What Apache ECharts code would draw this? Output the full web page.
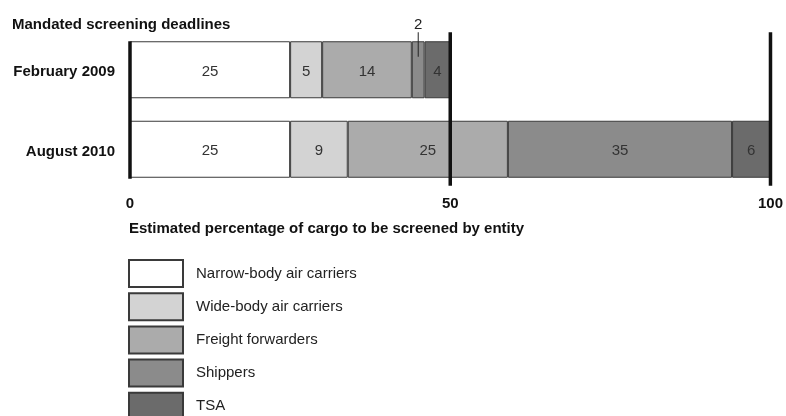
<!DOCTYPE html>
<html>
<head>
<meta charset="utf-8">
<script src="https://cdn.jsdelivr.net/npm/echarts@6/dist/echarts.min.js"></script>
<style>
html,body{margin:0;padding:0;background:#fff;}
#c{width:786px;height:416px;}
</style>
</head>
<body>
<div id="c"></div>
<script>
const categories = ['February 2009', 'August 2010'];
const seriesNames = ['Narrow-body air carriers', 'Wide-body air carriers', 'Freight forwarders', 'Shippers', 'TSA'];
const narrowBody = [25, 25];
const wideBody = [5, 9];
const freightForwarders = [14, 25];
const shippers = [2, 35];
const tsa = [4, 6];
const xTicks = [0, 50, 100];
const chartTitle = 'Mandated screening deadlines';
const axisTitle = 'Estimated percentage of cargo to be screened by entity';

const values = [narrowBody, wideBody, freightForwarders, shippers, tsa];
const colors = ['#ffffff', '#d3d3d3', '#ababab', '#8b8b8b', '#6b6b6b'];
const FONT = '"Liberation Sans", Arial, Helvetica, sans-serif';
const BAR_W = 57;
const FS = 15;

const chart = echarts.init(document.getElementById('c'), null, {renderer: 'canvas'});

const barSeries = seriesNames.map((name, si) => ({
  name: name,
  type: 'bar',
  stack: 'total',
  barWidth: BAR_W,
  itemStyle: {color: colors[si], borderColor: '#3a3a3a', borderWidth: 1},
  label: {show: true, position: 'inside', offset: [0, 2], color: '#333', fontSize: FS, fontFamily: FONT},
  emphasis: {disabled: true},
  data: values[si].map((v, ci) => {
    if (v <= 2) {
      return {value: v, label: {show: true, position: 'top', distance: 9, offset: [0, 0], color: '#222'}};
    }
    return v;
  })
}));

// position of small segment callout (centre of the segment)
const calloutPoints = [];
values.forEach((arr, si) => {
  arr.forEach((v, ci) => {
    if (v <= 2) {
      let start = 0;
      for (let k = 0; k < si; k++) start += values[k][ci];
      calloutPoints.push([start + v / 2, ci]);
    }
  });
});

const lineSeries = {
  type: 'custom',
  silent: true,
  z: 10,
  data: xTicks.map(v => [v]),
  renderItem: function (params, api) {
    const v = api.value(0);
    const p0 = api.coord([v, 0]);
    const p1 = api.coord([v, categories.length - 1]);
    let y0, y1;
    if (v === xTicks[0]) { y0 = p0[1] - BAR_W / 2; y1 = p1[1] + BAR_W / 2 + 1; }
    else { y0 = p0[1] - BAR_W / 2 - 9; y1 = p1[1] + BAR_W / 2 + 8; }
    return {
      type: 'line',
      shape: {x1: p0[0], y1: y0, x2: p0[0], y2: y1},
      style: {stroke: '#111', lineWidth: 3.5}
    };
  }
};

const calloutSeries = {
  type: 'custom',
  silent: true,
  z: 11,
  data: calloutPoints,
  renderItem: function (params, api) {
    const p = api.coord([api.value(0), api.value(1)]);
    return {
      type: 'line',
      shape: {x1: p[0], y1: p[1] - BAR_W / 2 - 9, x2: p[0], y2: p[1] - 13},
      style: {stroke: '#222', lineWidth: 1}
    };
  }
};

chart.setOption({
  backgroundColor: '#fff',
  animation: false,
  textStyle: {fontFamily: FONT},
  title: [
    {text: chartTitle, left: 12, top: 17, padding: 0, textStyle: {fontSize: FS, fontWeight: 'bold', color: '#111', fontFamily: FONT}},
    {text: axisTitle, left: 129, top: 221, padding: 0, textStyle: {fontSize: FS, fontWeight: 'bold', color: '#111', fontFamily: FONT}}
  ],
  grid: {left: 130, right: 15, top: 30, height: 159},
  xAxis: {
    type: 'value', min: 0, max: 100, interval: 50,
    axisLine: {show: false}, axisTick: {show: false}, splitLine: {show: false},
    axisLabel: {fontSize: FS, fontWeight: 'bold', color: '#111', margin: 7, fontFamily: FONT}
  },
  yAxis: {
    type: 'category', data: categories, inverse: true,
    axisLine: {show: false}, axisTick: {show: false},
    axisLabel: {
      margin: 15,
      formatter: function (v) { return '{c|' + v + '}'; },
      rich: {c: {fontSize: FS, fontWeight: 'bold', color: '#111', fontFamily: FONT, padding: [5, 0, 0, 0]}}
    }
  },
  legend: {
    data: seriesNames,
    orient: 'vertical',
    left: 128, top: 259, height: 200,
    padding: 0,
    itemWidth: 54, itemHeight: 27, itemGap: 4.2,
    icon: 'rect',
    selectedMode: false,
    textStyle: {fontSize: FS, color: '#222', padding: [0, 0, 0, 8], fontFamily: FONT}
  },
  series: barSeries.concat([lineSeries, calloutSeries])
});
</script>
</body>
</html>
